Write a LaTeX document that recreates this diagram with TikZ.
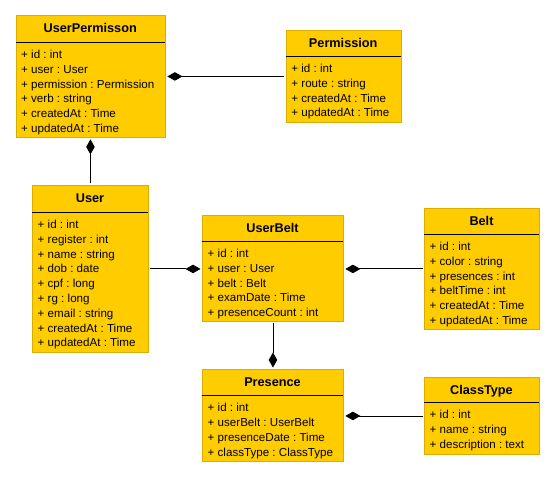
\documentclass[tikz,border=0pt]{standalone}
\usepackage{fontspec}
\setmainfont{Liberation Sans}
\usetikzlibrary{arrows.meta}
\frenchspacing
\definecolor{umlfill}{HTML}{FFCC00}
\definecolor{umlborder}{HTML}{D9AE00}
\tikzset{
  cls/.style={draw=umlborder, fill=umlfill, line width=0.9pt, rectangle, inner sep=0pt},
  sepline/.style={draw=black, line width=0.9pt},
  ctitle/.style={font=\bfseries\fontsize{12.7}{14}\selectfont, inner sep=0pt, anchor=base},
  cattr/.style={font=\fontsize{11.6}{13}\selectfont, inner sep=0pt, anchor=base west},
  comp/.style={draw=black, line width=0.9pt, -{Diamond[length=15pt,width=8.5pt]}, shorten >=1.5pt, shorten <=1.5pt},
}
\newcommand\umlbox[8]{%
  \node[cls, minimum width=#4pt, minimum height=#5pt, anchor=north west] (#1) at (#2,#3) {};
  \draw[sepline] (#2,#3+#6) -- (#2+#4,#3+#6);
  \node[ctitle] (#1-t) at (#2+#4/2,#3+#6/2+4.5) {#7};
  \foreach \a [count=\i] in {#8} {
    \node[cattr] (#1-\i) at (#2+5.5,#3+#6+12.5+4.1+\i*14.8-14.8) {\a};
  }
}
\begin{document}
\begin{tikzpicture}[x=1pt,y=-1pt]
\useasboundingbox[fill=white] (0,0) rectangle (557,478);
\umlbox{up}{15.5}{15}{149.5}{122}{27}{UserPermisson}{+ id : int,+ user : User,+ permission : Permission,+ verb : string,+ createdAt : Time,+ updatedAt : Time}
\umlbox{perm}{285.7}{30}{115}{92}{26}{Permission}{+ id : int,+ route : string,+ createdAt : Time,+ updatedAt : Time}
\umlbox{user}{32}{185}{116}{167}{27}{User}{+ id : int,+ register : int,+ name : string,+ dob : date,+ cpf : long,+ rg : long,+ email : string,+ createdAt : Time,+ updatedAt : Time}
\umlbox{ub}{202}{215}{141}{106}{26}{UserBelt}{+ id : int,+ user : User,+ belt : Belt,+ examDate : Time,+ presenceCount : int}
\umlbox{belt}{424}{208}{115}{121}{26}{Belt}{+ id : int,+ color : string,+ presences : int,+ beltTime : int,+ createdAt : Time,+ updatedAt : Time}
\umlbox{pres}{202}{369}{141}{92}{26}{Presence}{+ id : int,+ userBelt : UserBelt,+ presenceDate : Time,+ classType : ClassType}
\umlbox{ct}{424}{377}{115}{77}{25}{ClassType}{+ id : int,+ name : string,+ description : text}
\draw[comp] (perm.west) -- (perm.west -| up.east);
\draw[comp] (user.north) -- (user.north |- up.south);
\draw[comp] (user.east) -- (user.east -| ub.west);
\draw[comp] (belt.west) -- (belt.west -| ub.east);
\draw[comp] (ub.south) -- (ub.south |- pres.north);
\draw[comp] (ct.west) -- (ct.west -| pres.east);
\end{tikzpicture}
\end{document}
